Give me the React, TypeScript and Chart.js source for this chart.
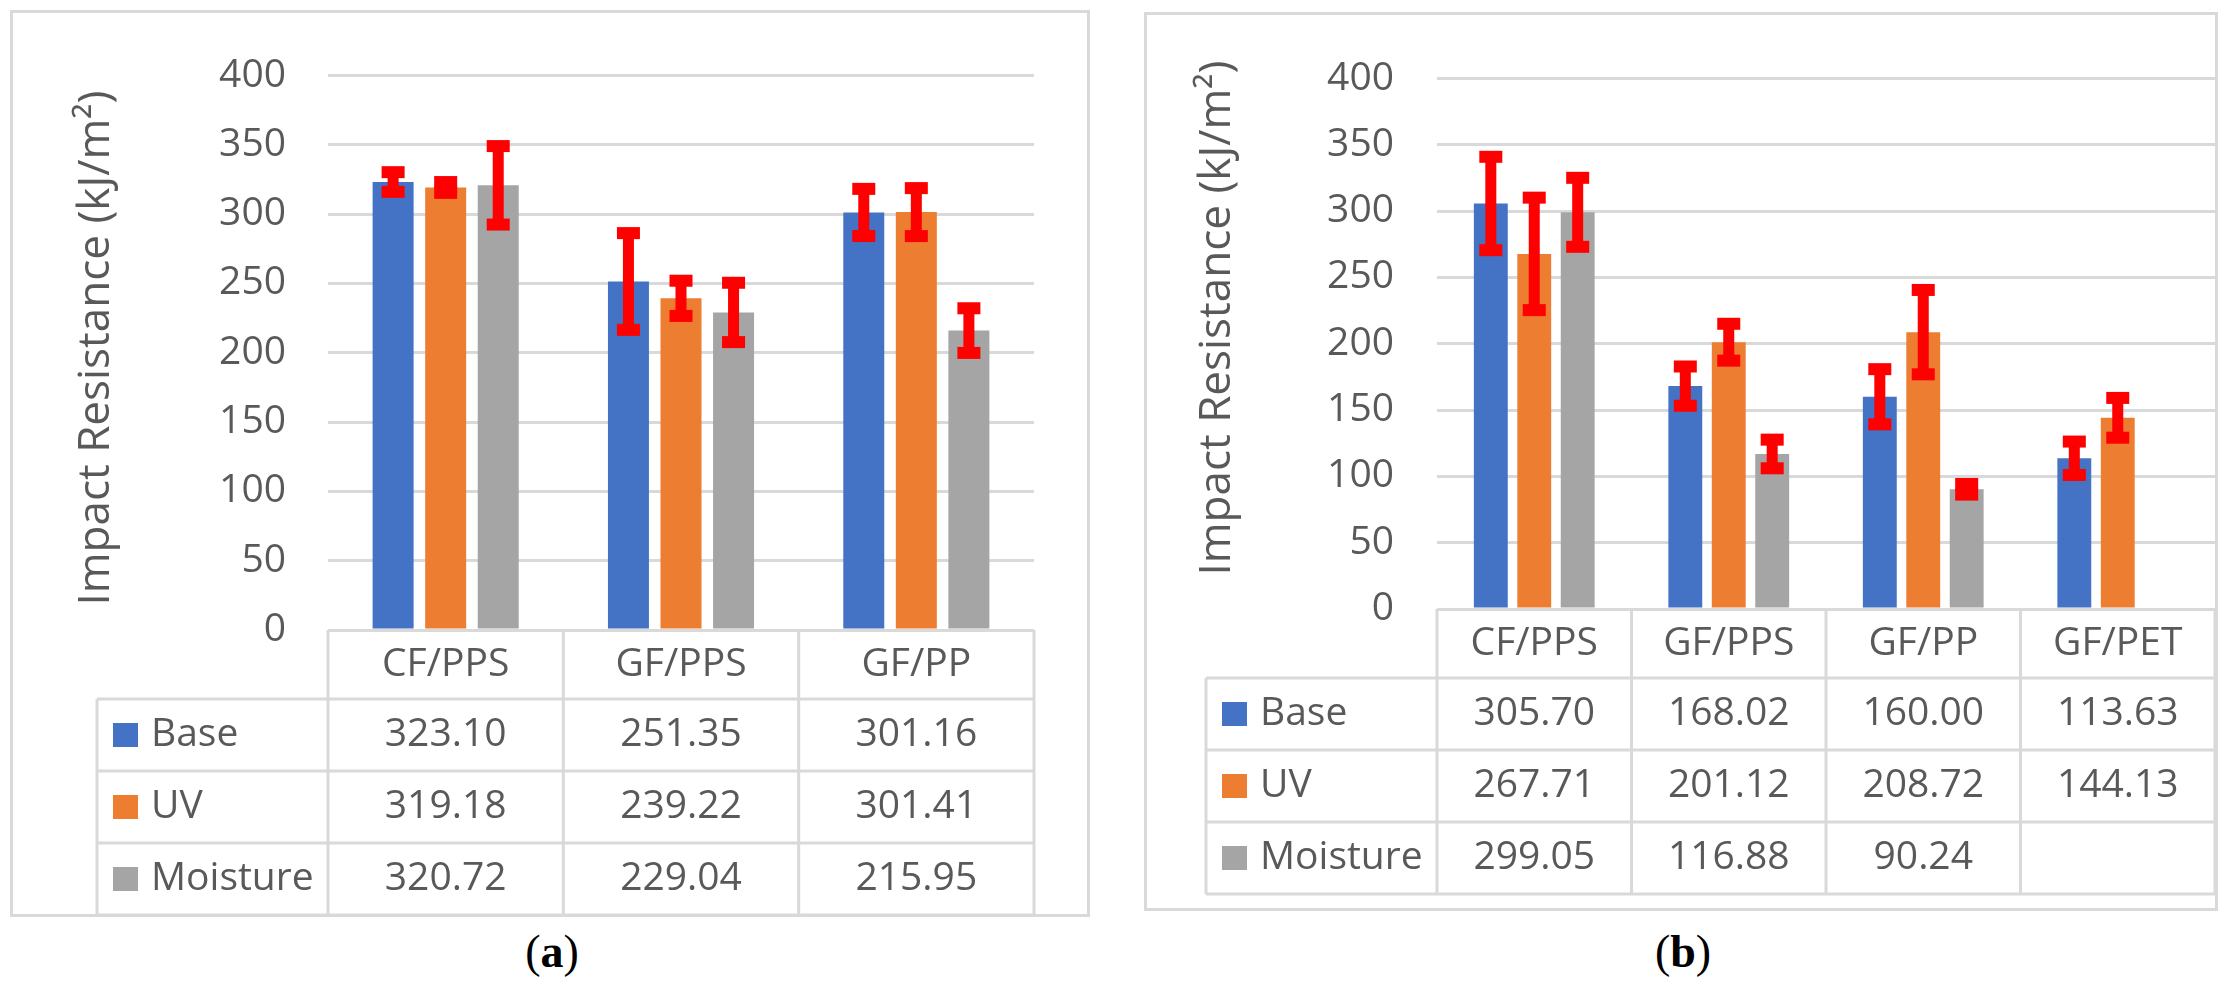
import { useEffect, useRef } from "react"
import { Chart, registerables, type Plugin } from "chart.js"

Chart.register(...registerables)
Chart.defaults.font.family = "'Open Sans', 'Noto Sans', sans-serif"

// series
const seriesNames = ["Base", "UV", "Moisture"]
const seriesColors = ["#4472C4", "#ED7D31", "#A5A5A5"]

// panel (a)
const categoriesA = ["CF/PPS", "GF/PPS", "GF/PP"]
const baseA = [323.1, 251.35, 301.16]
const uvA = [319.18, 239.22, 301.41]
const moistureA = [320.72, 229.04, 215.95]
const baseErrA = [7.1, 34.9, 17.0]
const uvErrA = [3.9, 12.7, 17.3]
const moistureErrA = [28.3, 21.4, 16.1]

// panel (b)
const categoriesB = ["CF/PPS", "GF/PPS", "GF/PP", "GF/PET"]
const baseB = [305.7, 168.02, 160.0, 113.63]
const uvB = [267.71, 201.12, 208.72, 144.13]
const moistureB: (number | null)[] = [299.05, 116.88, 90.24, null]
const baseErrB = [35.2, 14.8, 20.8, 12.6]
const uvErrB = [42.4, 13.9, 31.8, 15.0]
const moistureErrB: (number | null)[] = [26.0, 10.8, 4.0, null]

// y axis
const yMin = 0
const yMax = 400
const yStep = 50
const yTitle = "Impact Resistance (kJ/m²)"

const TEXT = "#595959"
const LINE = "#D9D9D9"
const RED = "#FF0000"
const FONT = "'Open Sans', 'Noto Sans', sans-serif"

type PanelLayout = {
  left: number
  top: number
  width: number
  height: number
  areaLeft: number
  areaRight: number
  areaTop: number
  areaBottom: number
  labelGap: number
  titleX: number
  titleY: number
  legendLeft: number
  headerH: number
  rowH: number
}

const layoutA: PanelLayout = {
  left: 10, top: 10, width: 1080, height: 907,
  areaLeft: 318, areaRight: 1024, areaTop: 55, areaBottom: 620,
  labelGap: 42, titleX: 86, titleY: 338, legendLeft: 87, headerH: 69, rowH: 72,
}

const layoutB: PanelLayout = {
  left: 1144, top: 12, width: 1074, height: 899,
  areaLeft: 293, areaRight: 1071, areaTop: 43, areaBottom: 597,
  labelGap: 43, titleX: 73, titleY: 306, legendLeft: 62, headerH: 69, rowH: 72,
}

// red error bars drawn at the bar elements, using the y scale
const errorBarPlugin: Plugin<"bar"> = {
  id: "errorBars",
  afterDatasetsDraw(chart, _args, opts: any) {
    const { ctx } = chart
    const y = chart.scales.y
    chart.data.datasets.forEach((ds, d) => {
      const meta = chart.getDatasetMeta(d)
      const errs: (number | null)[] = opts.errors[d]
      meta.data.forEach((bar: any, i) => {
        const v = ds.data[i] as number | null
        const e = errs[i]
        if (v == null || e == null) return
        const yT = y.getPixelForValue(v + e)
        const yB = y.getPixelForValue(v - e)
        ctx.save()
        ctx.fillStyle = RED
        ctx.fillRect(bar.x - 5.5, yT, 11, yB - yT)
        ctx.fillRect(bar.x - 11.5, yT - 6, 23, 12)
        ctx.fillRect(bar.x - 11.5, yB - 6, 23, 12)
        ctx.restore()
      })
    })
  },
}

// excel-style data table below the plot, the frame and the axis title
const dataTablePlugin: Plugin<"bar"> = {
  id: "dataTable",
  afterDraw(chart, _args, opts: any) {
    const { ctx, chartArea } = chart
    const x = chart.scales.x
    const labels = chart.data.labels as string[]
    const n = labels.length
    const { left, right } = chartArea
    const top = chartArea.bottom
    const headerBottom = top + opts.headerH
    const rowBottoms = chart.data.datasets.map((_, i) => headerBottom + (i + 1) * opts.rowH)
    const bottom = rowBottoms[rowBottoms.length - 1]
    const colW = (right - left) / n

    ctx.save()
    ctx.strokeStyle = LINE
    ctx.lineWidth = 3
    ctx.beginPath()
    for (let i = 0; i <= n; i++) {
      const bx = left + i * colW
      ctx.moveTo(bx, top)
      ctx.lineTo(bx, bottom)
    }
    ctx.moveTo(opts.legendLeft, headerBottom)
    ctx.lineTo(opts.legendLeft, bottom)
    ;[headerBottom, ...rowBottoms].forEach((ry) => {
      ctx.moveTo(opts.legendLeft, ry)
      ctx.lineTo(right, ry)
    })
    ctx.stroke()

    // frame
    ctx.strokeRect(1.5, 1.5, chart.width - 3, chart.height - 3)

    ctx.fillStyle = TEXT
    ctx.font = `39px ${FONT}`
    ctx.textBaseline = "middle"
    ctx.textAlign = "center"
    labels.forEach((lab, i) => {
      ctx.fillText(lab, x.getPixelForValue(i), (top + headerBottom) / 2)
    })

    chart.data.datasets.forEach((ds, d) => {
      const mid = rowBottoms[d] - opts.rowH / 2
      ctx.fillStyle = ds.backgroundColor as string
      ctx.fillRect(opts.legendLeft + 16, mid - 12, 25, 24)
      ctx.fillStyle = TEXT
      ctx.textAlign = "left"
      ctx.fillText(ds.label as string, opts.legendLeft + 54, mid)
      ctx.textAlign = "center"
      ds.data.forEach((v, i) => {
        if (v == null) return
        ctx.fillText((v as number).toFixed(2), x.getPixelForValue(i), mid)
      })
    })

    // y axis title
    ctx.translate(opts.titleX, opts.titleY)
    ctx.rotate(-Math.PI / 2)
    ctx.font = `44px ${FONT}`
    ctx.fillText(opts.title, 0, 0)
    ctx.restore()
  },
}

function Panel({
  layout,
  categories,
  series,
  errors,
}: {
  layout: PanelLayout
  categories: string[]
  series: (number | null)[][]
  errors: (number | null)[][]
}) {
  const canvasRef = useRef<HTMLCanvasElement>(null)

  useEffect(() => {
    if (!canvasRef.current) return
    const padLeft = 20
    const chart = new Chart(canvasRef.current, {
      type: "bar",
      data: {
        labels: categories,
        datasets: series.map((data, i) => ({
          label: seriesNames[i],
          data,
          backgroundColor: seriesColors[i],
          borderWidth: 0,
          categoryPercentage: 0.67,
          barPercentage: 0.78,
        })),
      },
      options: {
        responsive: true,
        maintainAspectRatio: false,
        animation: false,
        events: [],
        layout: {
          padding: {
            left: padLeft,
            right: layout.width - layout.areaRight,
            top: layout.areaTop,
            bottom: 0,
          },
        },
        plugins: {
          legend: { display: false },
          tooltip: { enabled: false },
          errorBars: { errors },
          dataTable: {
            headerH: layout.headerH,
            rowH: layout.rowH,
            legendLeft: layout.legendLeft,
            title: yTitle,
            titleX: layout.titleX,
            titleY: layout.titleY,
          },
        } as any,
        scales: {
          x: {
            ticks: { display: false },
            grid: { display: false },
            border: { display: false },
            afterFit: (scale: any) => {
              scale.height = layout.height - layout.areaBottom
            },
          },
          y: {
            min: yMin,
            max: yMax,
            ticks: {
              stepSize: yStep,
              color: TEXT,
              padding: layout.labelGap,
              font: { size: 39 },
            },
            grid: { color: LINE, lineWidth: 3, drawTicks: false },
            border: { display: false },
            afterFit: (scale: any) => {
              scale.width = layout.areaLeft - padLeft
            },
          },
        },
      },
      plugins: [errorBarPlugin, dataTablePlugin],
    })
    return () => chart.destroy()
  }, [])

  return (
    <div
      style={{
        position: "absolute",
        left: layout.left,
        top: layout.top,
        width: layout.width,
        height: layout.height,
      }}
    >
      <canvas ref={canvasRef} />
    </div>
  )
}

const captionStyle = {
  position: "absolute" as const,
  top: 929,
  width: 200,
  textAlign: "center" as const,
  fontFamily: "'Liberation Serif', 'Times New Roman', serif",
  fontSize: 46,
  lineHeight: "46px",
  color: "#000",
}

export default function App() {
  return (
    <div style={{ position: "absolute", left: 0, top: 0, width: 2228, height: 991, background: "#fff" }}>
      <Panel
        layout={layoutA}
        categories={categoriesA}
        series={[baseA, uvA, moistureA]}
        errors={[baseErrA, uvErrA, moistureErrA]}
      />
      <Panel
        layout={layoutB}
        categories={categoriesB}
        series={[baseB, uvB, moistureB]}
        errors={[baseErrB, uvErrB, moistureErrB]}
      />
      <div style={{ ...captionStyle, left: 552 - 100 }}>
        (<b>a</b>)
      </div>
      <div style={{ ...captionStyle, left: 1683 - 100 }}>
        (<b>b</b>)
      </div>
    </div>
  )
}
